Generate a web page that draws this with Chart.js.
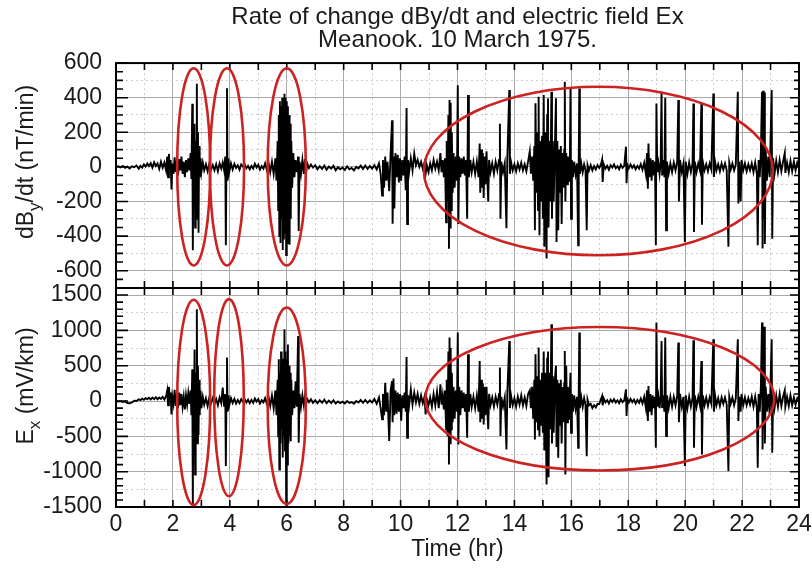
<!DOCTYPE html>
<html>
<head>
<meta charset="utf-8">
<title>dBy/dt and Ex, Meanook 10 March 1975</title>
<script src="https://cdn.jsdelivr.net/npm/chart.js@4.4.1/dist/chart.umd.min.js"></script>
<style>
  html, body { margin: 0; padding: 0; background: #fff; }
  #wrap { position: relative; width: 812px; height: 569px; overflow: hidden; }
  #topPanel { position: absolute; left: 0; top: 0; }
  #bottomPanel { position: absolute; left: 0; top: 274px; }
</style>
</head>
<body>
<div id="wrap">
  <canvas id="topPanel" width="812" height="290"></canvas>
  <canvas id="bottomPanel" width="812" height="295"></canvas>
</div>
<script>
// sample times (hours UT), shared by both traces
const hours = [
  0.00, 0.08, 0.16, 0.24, 0.32, 0.40, 0.48, 0.56, 0.64, 0.72,
  0.80, 0.86, 0.92, 0.98, 1.04, 1.10, 1.16, 1.22, 1.28, 1.34,
  1.40, 1.46, 1.52, 1.58, 1.64, 1.70, 1.76, 1.80, 1.83, 1.86,
  1.89, 1.92, 1.95, 1.98, 2.02, 2.06, 2.10, 2.14, 2.18, 2.22,
  2.26, 2.30, 2.34, 2.38, 2.42, 2.46, 2.50, 2.54, 2.58, 2.62,
  2.65, 2.68, 2.70, 2.72, 2.74, 2.76, 2.78, 2.80, 2.82, 2.84,
  2.86, 2.88, 2.90, 2.92, 2.94, 2.97, 3.00, 3.05, 3.10, 3.16,
  3.22, 3.28, 3.34, 3.40, 3.46, 3.52, 3.58, 3.64, 3.70, 3.75,
  3.80, 3.84, 3.86, 3.88, 3.90, 3.92, 3.95, 3.98, 4.04, 4.10,
  4.16, 4.22, 4.28, 4.34, 4.40, 4.46, 4.52, 4.58, 4.64, 4.70,
  4.76, 4.82, 4.88, 4.94, 5.00, 5.06, 5.12, 5.18, 5.24, 5.30,
  5.36, 5.42, 5.48, 5.54, 5.60, 5.64, 5.68, 5.70, 5.72, 5.74,
  5.76, 5.78, 5.80, 5.82, 5.84, 5.86, 5.88, 5.90, 5.92, 5.94,
  5.96, 5.98, 6.00, 6.02, 6.04, 6.06, 6.08, 6.10, 6.12, 6.14,
  6.16, 6.19, 6.23, 6.27, 6.31, 6.35, 6.40, 6.42, 6.45, 6.50,
  6.55, 6.60, 6.64, 6.68, 6.72, 6.78, 6.85, 6.92, 7.00, 7.08,
  7.16, 7.24, 7.32, 7.40, 7.48, 7.56, 7.64, 7.72, 7.80, 7.88,
  7.96, 8.04, 8.12, 8.20, 8.28, 8.36, 8.44, 8.52, 8.60, 8.68,
  8.76, 8.84, 8.92, 9.00, 9.08, 9.16, 9.24, 9.30, 9.35, 9.38,
  9.42, 9.46, 9.50, 9.54, 9.60, 9.65, 9.70, 9.72, 9.75, 9.78,
  9.82, 9.86, 9.90, 9.94, 9.98, 10.02, 10.06, 10.10, 10.14, 10.18,
  10.21, 10.23, 10.26, 10.30, 10.36, 10.42, 10.48, 10.54, 10.60, 10.66,
  10.72, 10.78, 10.84, 10.88, 10.92, 10.98, 11.04, 11.10, 11.16, 11.22,
  11.28, 11.34, 11.40, 11.44, 11.48, 11.52, 11.56, 11.60, 11.62, 11.65,
  11.68, 11.70, 11.72, 11.74, 11.76, 11.78, 11.80, 11.83, 11.86, 11.90,
  11.94, 11.98, 12.01, 12.03, 12.06, 12.10, 12.14, 12.18, 12.22, 12.26,
  12.30, 12.34, 12.37, 12.40, 12.45, 12.50, 12.56, 12.62, 12.68, 12.74,
  12.78, 12.80, 12.83, 12.86, 12.89, 12.92, 12.95, 12.98, 13.02, 13.05,
  13.08, 13.11, 13.16, 13.22, 13.28, 13.34, 13.40, 13.46, 13.49, 13.51,
  13.54, 13.60, 13.66, 13.72, 13.75, 13.82, 13.84, 13.88, 13.94, 14.00,
  14.06, 14.12, 14.18, 14.24, 14.30, 14.36, 14.42, 14.48, 14.54, 14.58,
  14.62, 14.66, 14.70, 14.72, 14.74, 14.77, 14.80, 14.83, 14.85, 14.88,
  14.91, 14.94, 14.97, 15.00, 15.03, 15.05, 15.08, 15.11, 15.13, 15.15,
  15.18, 15.20, 15.23, 15.26, 15.30, 15.32, 15.35, 15.38, 15.42, 15.46,
  15.48, 15.51, 15.54, 15.57, 15.60, 15.63, 15.66, 15.69, 15.72, 15.75,
  15.77, 15.79, 15.82, 15.85, 15.88, 15.92, 15.95, 15.97, 15.99, 16.02,
  16.06, 16.10, 16.15, 16.20, 16.24, 16.26, 16.28, 16.30, 16.35, 16.40,
  16.45, 16.50, 16.54, 16.57, 16.62, 16.68, 16.74, 16.80, 16.86, 16.92,
  16.98, 17.04, 17.08, 17.10, 17.14, 17.20, 17.26, 17.32, 17.38, 17.44,
  17.50, 17.56, 17.62, 17.68, 17.74, 17.80, 17.86, 17.92, 17.94, 17.97,
  18.02, 18.08, 18.14, 18.20, 18.26, 18.32, 18.38, 18.44, 18.50, 18.56,
  18.62, 18.66, 18.69, 18.71, 18.74, 18.78, 18.82, 18.86, 18.90, 18.94,
  18.97, 18.99, 19.02, 19.06, 19.10, 19.14, 19.17, 19.19, 19.23, 19.27,
  19.30, 19.33, 19.36, 19.42, 19.48, 19.54, 19.60, 19.66, 19.72, 19.76,
  19.78, 19.82, 19.88, 19.94, 19.99, 20.02, 20.08, 20.14, 20.20, 20.26,
  20.29, 20.31, 20.34, 20.40, 20.46, 20.52, 20.57, 20.59, 20.62, 20.68,
  20.74, 20.80, 20.86, 20.92, 20.99, 21.01, 21.05, 21.10, 21.16, 21.22,
  21.28, 21.34, 21.40, 21.46, 21.52, 21.55, 21.60, 21.66, 21.72, 21.78,
  21.85, 21.87, 21.90, 21.95, 21.98, 22.04, 22.10, 22.16, 22.22, 22.28,
  22.34, 22.40, 22.46, 22.52, 22.55, 22.58, 22.62, 22.66, 22.70, 22.72,
  22.74, 22.76, 22.78, 22.80, 22.83, 22.87, 22.92, 22.97, 23.04, 23.06,
  23.09, 23.14, 23.20, 23.26, 23.32, 23.38, 23.44, 23.50, 23.52, 23.58,
  23.64, 23.70, 23.76, 23.82, 23.88, 23.94, 24.00
];

// dBy/dt, nT/min
const dByDt = [
  0, 4, -3, 6, -6, 1, -9, 3, -2, 8,
  -11, 6, -4, 14, 2, 19, 5, 22, -4, 26,
  5, 20, -12, 30, -5, 25, -20, 60, -60, 75,
  -20, 40, -130, 20, -40, 55, -30, 30, -50, 45,
  -20, 60, -40, 30, -60, 40, -30, 50, -20, 80,
  -70, 365, -482, 120, -200, 250, -350, 150, -100, 480,
  -300, 200, -380, 120, -60, 50, -30, 25, -20, 15,
  -25, 20, -15, 10, -20, 15, -25, 20, -10, 25,
  -20, 60, -453, 40, 454, -80, 50, -30, 20, -15,
  18, -6, 9, -16, 14, 2, 15, -8, 6, -14,
  6, -10, 18, -4, 12, -16, 4, -10, 20, -18,
  25, -30, 30, -40, 50, -80, 150, -250, 300, -400,
  380, -440, 350, -300, 400, -480, 370, -420, 423, -380,
  400, -510, 380, -440, 350, -400, 300, -450, 250, -300,
  150, -120, 80, -60, 40, -30, 60, -370, 30, -40,
  40, -40, 45, -35, 20, -6, 14, -4, 9, -14,
  4, -12, 8, -16, 2, -10, 6, -20, -2, -14,
  -4, -18, 3, -14, -6, -20, 0, -9, 7, -12,
  8, -12, 5, -10, 10, -15, 20, -40, -165, 40,
  -120, 60, -80, 30, -140, 80, 270, -328, 60, -240,
  80, -60, 70, -90, 50, -80, 40, -50, 60, -135,
  340, -330, 40, -30, 50, -20, 77, 10, 40, 0,
  30, -10, 25, -40, 10, -30, 20, -20, 40, -10,
  30, -20, 80, -30, 40, -60, 50, -320, 150, -200,
  300, -473, 386, -350, 370, -250, 200, -150, 80, -120,
  60, -80, 472, -330, 60, -60, 50, -40, 60, -50,
  40, -300, 415, -60, 40, -30, 30, -40, 30, -60,
  135, -150, 100, -120, 80, -180, 60, -100, 90, -80,
  -200, 40, -30, 20, -40, 30, -20, 40, 250, -300,
  30, -30, 20, -355, 40, 444, -40, 30, -20, 15,
  -25, 20, -15, 25, -20, 15, -25, 30, 90, -40,
  60, -80, 120, -366, 368, -150, 200, -250, 406, -395,
  150, -200, 180, -300, 415, -462, 200, -250, -530, 300,
  396, -350, 150, -200, 434, -300, 150, -200, 100, 396,
  -434, 150, -366, 100, -150, 120, -330, 80, -120, 100,
  492, -200, 80, -100, 60, -80, 40, 453, -300, 40,
  -60, 30, -40, 20, -453, 30, 453, -40, 20, -30,
  15, -20, -366, 10, -20, 10, -20, 5, -15, 10,
  -6, 12, 40, -87, 14, -10, 6, -16, 10, -4,
  14, -8, 4, -14, 12, -6, 6, 117, -95, 12,
  -8, 14, -6, 9, -14, 6, -10, 16, -16, 24,
  -40, 80, -126, 135, -60, 50, -80, 40, -50, 30,
  -453, 367, -30, 20, -40, 30, 434, -50, 40, -60,
  400, -366, 30, -40, 20, -30, 25, -20, 30, 386,
  -200, 40, -30, 20, -434, 30, -40, 25, -30, 20,
  367, -376, 30, -30, 20, -20, 370, -335, 30, -20,
  15, -25, 20, -15, 424, -58, 30, -20, 15, -25,
  20, -15, 20, -20, -462, 25, -15, 20, -20, 15,
  434, -212, 30, -200, 40, -20, 20, -25, 15, -20,
  20, -30, 25, -40, -453, 40, -60, 80, 434, -472,
  440, -300, 430, -445, 100, -80, 60, -60, 444, -415,
  50, -40, 35, -30, 40, -25, 30, 80, -35, 25,
  -30, 35, -25, 30, -20, 25, 0
];

// Ex, mV/km
const eX = [
  0, -8, -2, -15, -6, -28, -32, -20, 5, 0,
  25, 12, 33, 18, 42, 28, 46, 22, 48, 26,
  55, 25, 50, 30, 60, 20, 70, 150, -60, 200,
  20, 120, -190, 60, -40, 160, -70, 90, -100, 120,
  -60, 100, -80, 60, -120, 80, -50, 110, -40, 150,
  -200, 450, -1470, 300, -500, 730, -1040, 400, -300, 1300,
  -600, 500, -480, 300, -200, 150, -100, 60, -50, 40,
  -70, 50, -30, 40, -40, 30, -60, 50, -30, 190,
  -80, 100, -920, 80, 615, -150, 80, -60, 40, -30,
  30, -35, 15, -30, 25, -10, 30, -22, 18, -30,
  15, -25, 35, -10, 28, -35, 10, -20, 40, -38,
  60, -70, 80, -100, 150, -200, 300, -500, 590, -970,
  400, -600, 700, -400, 500, -800, 600, -500, 1015, -700,
  700, -1465, 600, -900, 800, -600, 500, -500, 400, -570,
  300, -200, 150, -100, 280, -80, 920, -590, 100, -80,
  80, -60, 70, -40, 30, -15, 25, -25, 10, -30,
  12, -25, 18, -30, 5, -28, 10, -35, -5, -30,
  -10, -35, 0, -28, -15, -38, 0, -20, 14, -25,
  15, -25, 10, -20, 30, -40, 50, -100, -260, 100,
  -200, 260, -150, 120, -567, 150, 283, -300, 318, -200,
  150, -180, 120, -150, 100, -280, 80, -100, 120, -150,
  624, -520, 80, -60, 165, -50, 120, -20, 100, -40,
  80, -30, 60, -189, 30, -60, 50, -80, 100, -60,
  130, -100, 236, -50, 80, -120, 150, -400, 300, -500,
  700, -898, 898, -600, 750, -400, 400, -300, 200, -250,
  150, -150, 969, -615, 200, -200, 150, -100, 120, -150,
  100, -520, 662, -150, 100, -80, 60, -100, 80, -150,
  567, -300, 300, -250, 250, -331, 200, -200, 200, -150,
  -400, 100, -60, 50, -80, 60, -50, 100, 473, -496,
  60, -80, 50, -685, 100, 850, -100, 80, -60, 40,
  -80, 60, -50, 80, -60, 50, -70, 100, 150, -100,
  200, -250, 300, -543, 662, -300, 350, -400, 756, -500,
  300, -350, 400, -450, 700, -700, 400, -500, -1181, 600,
  700, -1080, 400, -400, 1087, -600, 350, -450, 300, 500,
  -650, 300, -803, 250, -350, 300, -600, 200, -300, 250,
  709, -1040, 500, -300, 200, -250, 150, 400, -450, 100,
  -150, 80, -100, 60, -661, 100, 969, -100, 50, -80,
  40, -60, -780, 20, -60, -40, -100, -60, -90, -40,
  -45, 25, 70, -60, 35, -20, 12, -35, 20, -15,
  25, -20, 10, -30, 25, -15, 10, 165, -210, 25,
  -20, 30, -15, 20, -35, 15, -25, 35, -35, 60,
  -100, 150, -283, 213, -150, 100, -200, 80, -100, 60,
  -661, 1110, -80, 60, -100, 80, 850, -100, 80, -150,
  898, -496, 80, -100, 60, -80, 60, -60, 80, 827,
  -300, 100, -80, 60, -921, 80, -100, 60, -80, 50,
  860, -661, 80, -80, 60, -60, 567, -756, 80, -60,
  50, -70, 50, -40, 874, -150, 80, -60, 40, -70,
  50, -40, 50, -50, -992, 60, -40, 50, -60, 40,
  874, -283, 60, -150, 100, -60, 50, -60, 40, -50,
  60, -80, 60, -100, -945, 100, -150, 200, 1110, -685,
  900, -400, 1050, -600, 200, -150, 100, -200, 874, -732,
  100, -100, 80, -80, 100, -70, 60, 150, -80, 60,
  -70, 80, -60, 50, -50, 40, 0
];

// axis ticks
const hourTicks = [0, 1, 2, 3, 4, 5, 6, 7, 8, 9, 10, 11, 12, 13, 14, 15, 16, 17, 18, 19, 20, 21, 22, 23, 24];
const dbTicks = [-700, -600, -500, -400, -300, -200, -100, 0, 100, 200, 300, 400, 500, 600];
const exTicks = [-1500, -1250, -1000, -750, -500, -250, 0, 250, 500, 750, 1000, 1250, 1500];

// highlighted intervals: [centre hr, centre value, half-width hr, half-height value]
const dbRings = [[2.73, 0, 0.58, 570], [3.90, 0, 0.60, 570], [6.00, 0, 0.67, 570], [16.95, -24, 6.13, 487]];
const exRings = [[2.73, -20, 0.58, 1453], [3.97, 47, 0.52, 1395], [6.00, -66, 0.67, 1390], [17.00, 33, 6.13, 1016]];

const FONT = "'Liberation Sans', Arial, Helvetica, sans-serif";
const INK = '#1a1a1a';

const isMajor = (v, step) => Math.abs(v % step) < 1e-9;
const gridColor = step => ctx => (ctx.tick && isMajor(ctx.tick.value, step)) ? '#a9a9a9' : '#cdcdcd';
const gridDash = step => ctx => (ctx.tick && !isMajor(ctx.tick.value, step)) ? [2, 3] : [];

// keep the plot frames exactly where the layout puts them (no label overhang padding)
const noPad = s => { s.paddingTop = 0; s.paddingBottom = 0; s.paddingLeft = 0; s.paddingRight = 0; };

// black frame with inward tick marks on all four sides
const frameTicks = {
  id: 'frameTicks',
  afterDatasetsDraw(chart, args, o) {
    const { ctx, chartArea: a, scales: { x, y } } = chart;
    ctx.save();
    ctx.strokeStyle = '#000';
    ctx.lineWidth = 1.6;
    ctx.beginPath();
    hourTicks.forEach(h => {
      const px = x.getPixelForValue(h);
      ctx.moveTo(px, a.top); ctx.lineTo(px, a.top + 7);
      ctx.moveTo(px, a.bottom); ctx.lineTo(px, a.bottom - 7);
    });
    for (let v = o.min; v <= o.max; v += o.minor) {
      const py = y.getPixelForValue(v);
      const big = isMajor(v, o.major);
      ctx.moveTo(a.left, py); ctx.lineTo(a.left + (big ? 12 : 7), py);
      ctx.moveTo(a.right, py); ctx.lineTo(a.right - (big ? 9 : 5), py);
    }
    ctx.stroke();
    ctx.lineWidth = 2;
    ctx.strokeRect(a.left, a.top, a.right - a.left, a.bottom - a.top);
    ctx.restore();
  }
};

// red ellipses around the disturbed intervals
const rings = {
  id: 'rings',
  afterDatasetsDraw(chart, args, o) {
    const { ctx, scales: { x, y } } = chart;
    ctx.save();
    ctx.strokeStyle = '#cc2222';
    ctx.lineWidth = 2.6;
    o.list.forEach(([cx, cy, rx, ry]) => {
      const px = x.getPixelForValue(cx), py = y.getPixelForValue(cy);
      const w = Math.abs(x.getPixelForValue(cx + rx) - px);
      const h = Math.abs(y.getPixelForValue(cy + ry) - py);
      ctx.beginPath();
      ctx.ellipse(px, py, w, h, 0, 0, Math.PI * 2);
      ctx.stroke();
    });
    ctx.restore();
  }
};

// rotated y caption with a subscript part
const yCaption = {
  id: 'yCaption',
  afterDraw(chart, args, o) {
    const ctx = chart.ctx;
    const big = `${o.size}px ${FONT}`;
    const small = `${Math.round(o.size * 0.72)}px ${FONT}`;
    ctx.save();
    ctx.translate(o.x, o.y);
    ctx.rotate(-Math.PI / 2);
    ctx.fillStyle = INK;
    ctx.textBaseline = 'alphabetic';
    let total = 0;
    o.parts.forEach(p => { ctx.font = p.sub ? small : big; total += ctx.measureText(p.text).width; });
    let cx = -total / 2;
    o.parts.forEach(p => {
      ctx.font = p.sub ? small : big;
      ctx.fillText(p.text, cx, p.sub ? o.size * 0.32 : 0);
      cx += ctx.measureText(p.text).width;
    });
    ctx.restore();
  }
};

function series(values) {
  return [{
    data: hours.map((h, i) => ({ x: h, y: values[i] })),
    borderColor: '#000',
    borderWidth: 1.9,
    pointRadius: 0,
    tension: 0
  }];
}

const tickFont = { family: FONT, size: 23 };

// top panel: dBy/dt
new Chart(document.getElementById('topPanel'), {
  type: 'line',
  data: { datasets: series(dByDt) },
  options: {
    responsive: false,
    animation: false,
    layout: { padding: { left: 0, right: 13, top: 0, bottom: 0 } },
    plugins: {
      legend: { display: false },
      tooltip: { enabled: false },
      title: {
        display: true,
        text: ['Rate of change dBy/dt and electric field Ex', 'Meanook. 10 March 1975.'],
        fullSize: false,
        color: INK,
        font: { family: FONT, size: 24, weight: 'normal', lineHeight: 0.96 },
        padding: { top: 6, bottom: 11 }
      },
      frameTicks: { min: -700, max: 600, minor: 50, major: 200 },
      rings: { list: dbRings },
      yCaption: { x: 33, y: 162, size: 23, parts: [{ text: 'dB' }, { text: 'y', sub: true }, { text: '/dt (nT/min)' }] }
    },
    scales: {
      x: {
        type: 'linear', min: 0, max: 24,
        afterBuildTicks: s => { s.ticks = hourTicks.map(v => ({ value: v })); },
        ticks: { display: false, autoSkip: false },
        grid: { color: gridColor(2), drawTicks: false },
        border: { display: false, dash: gridDash(2) },
        afterFit: s => { s.height = 2; noPad(s); }
      },
      y: {
        min: -700, max: 600,
        afterBuildTicks: s => { s.ticks = dbTicks.map(v => ({ value: v })); },
        ticks: {
          autoSkip: false, padding: 14, color: INK, font: tickFont,
          callback: v => (isMajor(v, 200) && v >= -600) ? v : ''
        },
        grid: { color: gridColor(200), drawTicks: false },
        border: { display: false, dash: gridDash(200) },
        afterFit: s => { s.width = 116; noPad(s); }
      }
    }
  },
  plugins: [frameTicks, rings, yCaption]
});

// bottom panel: Ex
new Chart(document.getElementById('bottomPanel'), {
  type: 'line',
  data: { datasets: series(eX) },
  options: {
    responsive: false,
    animation: false,
    layout: { padding: { left: 0, right: 13, top: 14, bottom: 0 } },
    plugins: {
      legend: { display: false },
      tooltip: { enabled: false },
      frameTicks: { min: -1500, max: 1600, minor: 100, major: 500 },
      rings: { list: exRings },
      yCaption: { x: 33, y: 112, size: 23, parts: [{ text: 'E' }, { text: 'x', sub: true }, { text: ' (mV/km)' }] }
    },
    scales: {
      x: {
        type: 'linear', min: 0, max: 24,
        afterBuildTicks: s => { s.ticks = hourTicks.map(v => ({ value: v })); },
        ticks: {
          autoSkip: false, maxRotation: 0, padding: 4, color: INK, font: tickFont,
          callback: v => isMajor(v, 2) ? v : ''
        },
        grid: { color: gridColor(2), drawTicks: false },
        border: { display: false, dash: gridDash(2) },
        title: { display: true, text: 'Time (hr)', color: INK, font: { family: FONT, size: 23 }, padding: { top: 0, bottom: 6 } },
        afterFit: s => { s.height = 62; noPad(s); }
      },
      y: {
        min: -1500, max: 1600,
        afterBuildTicks: s => { s.ticks = exTicks.map(v => ({ value: v })); },
        ticks: {
          autoSkip: false, padding: 14, color: INK, font: tickFont,
          callback: v => isMajor(v, 500) ? v : ''
        },
        grid: { color: gridColor(500), drawTicks: false },
        border: { display: false, dash: gridDash(500) },
        afterFit: s => { s.width = 116; noPad(s); }
      }
    }
  },
  plugins: [frameTicks, rings, yCaption]
});
</script>
</body>
</html>
